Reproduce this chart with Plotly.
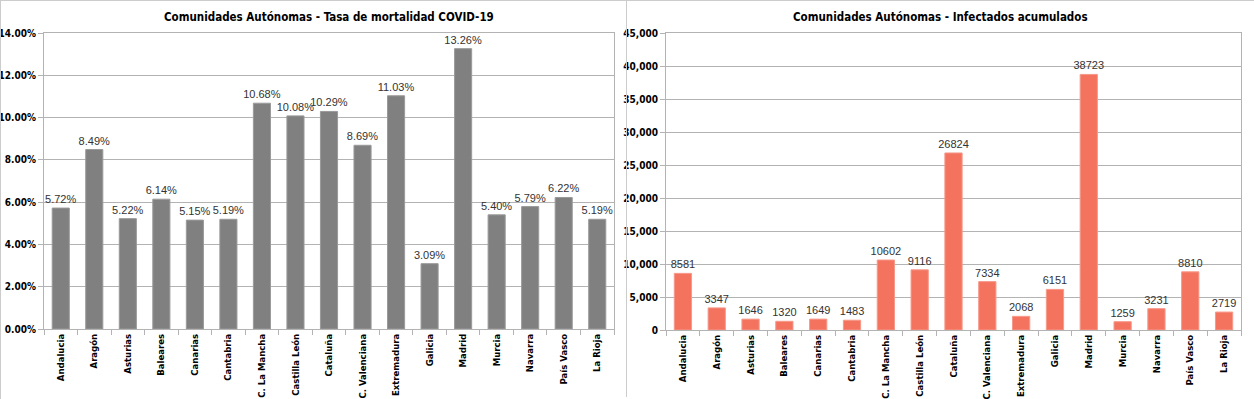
import plotly.graph_objects as go

W, H = 1254, 399

categorias = ["Andalucia", "Aragón", "Asturias", "Baleares", "Canarias", "Cantabria",
              "C. La Mancha", "Castilla León", "Cataluña", "C. Valenciana", "Extremadura",
              "Galicia", "Madrid", "Murcia", "Navarra", "País Vasco", "La Rioja"]
mortalidad = [5.72, 8.49, 5.22, 6.14, 5.15, 5.19, 10.68, 10.08, 10.29, 8.69, 11.03,
              3.09, 13.26, 5.40, 5.79, 6.22, 5.19]
infectados = [8581, 3347, 1646, 1320, 1649, 1483, 10602, 9116, 26824, 7334, 2068,
              6151, 38723, 1259, 3231, 8810, 2719]

titulo_izq = "Comunidades Autónomas - Tasa de mortalidad COVID-19"
titulo_der = "Comunidades Autónomas - Infectados acumulados"

FONT = "DejaVu Sans Condensed"
LBL = "Liberation Sans, Arial, sans-serif"
GRID = "#b3b3b3"

def px(x):
    return x / W

def py(y):
    return 1 - y / H

fig = go.Figure()
fig.add_trace(go.Bar(
    x=categorias, y=mortalidad, xaxis="x", yaxis="y",
    marker=dict(color="#808080", line=dict(color="#9a9a9a", width=1)),
    texttemplate="%{y:.2f}%", textposition="outside", cliponaxis=False,
    constraintext="none",
    textfont=dict(family=LBL, size=11, color="#333333"),
    showlegend=False, hoverinfo="x+y",
))
fig.add_trace(go.Bar(
    x=categorias, y=infectados, xaxis="x2", yaxis="y2",
    marker=dict(color="#F4735F", line=dict(color="#f6998a", width=1)),
    texttemplate="%{y:d}", textposition="outside", cliponaxis=False,
    constraintext="none",
    textfont=dict(family=LBL, size=11, color="#333333"),
    showlegend=False, hoverinfo="x+y",
))

xcommon = dict(
    type="category", showline=True, linecolor=GRID, mirror=True, showgrid=False,
    ticks="outside", tickson="boundaries", ticklen=5, tickcolor=GRID,
    tickangle=-90, automargin=False,
    tickfont=dict(family=FONT, size=9.5, color="#000000", weight="bold"),
    fixedrange=True,
)
ycommon = dict(
    showline=True, linecolor=GRID, mirror=True, showgrid=True, gridcolor=GRID,
    gridwidth=1, ticks="outside", ticklen=5, tickcolor=GRID, zeroline=False,
    automargin=False,
    tickfont=dict(family=FONT, size=10, color="#000000", weight="bold"),
    fixedrange=True,
)

fig.update_layout(
    width=W, height=H, autosize=False,
    margin=dict(l=0, r=0, t=0, b=0),
    paper_bgcolor="white", plot_bgcolor="white",
    bargap=0.49,
    xaxis=dict(domain=[px(44), px(614)], anchor="y", **xcommon),
    yaxis=dict(domain=[py(329), py(33)], anchor="x", range=[0, 14], dtick=2,
               tickformat=".2f", ticksuffix="%", **ycommon),
    xaxis2=dict(domain=[px(666), px(1241)], anchor="y2", **xcommon),
    yaxis2=dict(domain=[py(330), py(33)], anchor="x2", range=[0, 45000], dtick=5000,
                tickformat=",", **ycommon),
    annotations=[
        dict(text=titulo_izq, x=px(329), y=py(17), xref="paper", yref="paper",
             showarrow=False, xanchor="center", yanchor="middle",
             font=dict(family=FONT, size=11.5, color="#000000", weight="bold")),
        dict(text=titulo_der, x=px(940), y=py(17), xref="paper", yref="paper",
             showarrow=False, xanchor="center", yanchor="middle",
             font=dict(family=FONT, size=11.5, color="#000000", weight="bold")),
    ],
    shapes=[
        dict(type="line", xref="paper", yref="paper", x0=px(0.5), x1=px(0.5), y0=0, y1=1,
             line=dict(color="#cccccc", width=1)),
        dict(type="line", xref="paper", yref="paper", x0=0, x1=1, y0=py(0.5), y1=py(0.5),
             line=dict(color="#cccccc", width=1)),
        dict(type="line", xref="paper", yref="paper", x0=px(626.5), x1=px(626.5),
             y0=py(397), y1=1, line=dict(color="#cccccc", width=1)),
    ],
)

fig.write_html(
    "out.html",
    config={"displayModeBar": False},
    post_script="document.body.style.margin='0';document.body.style.padding='0';",
)
